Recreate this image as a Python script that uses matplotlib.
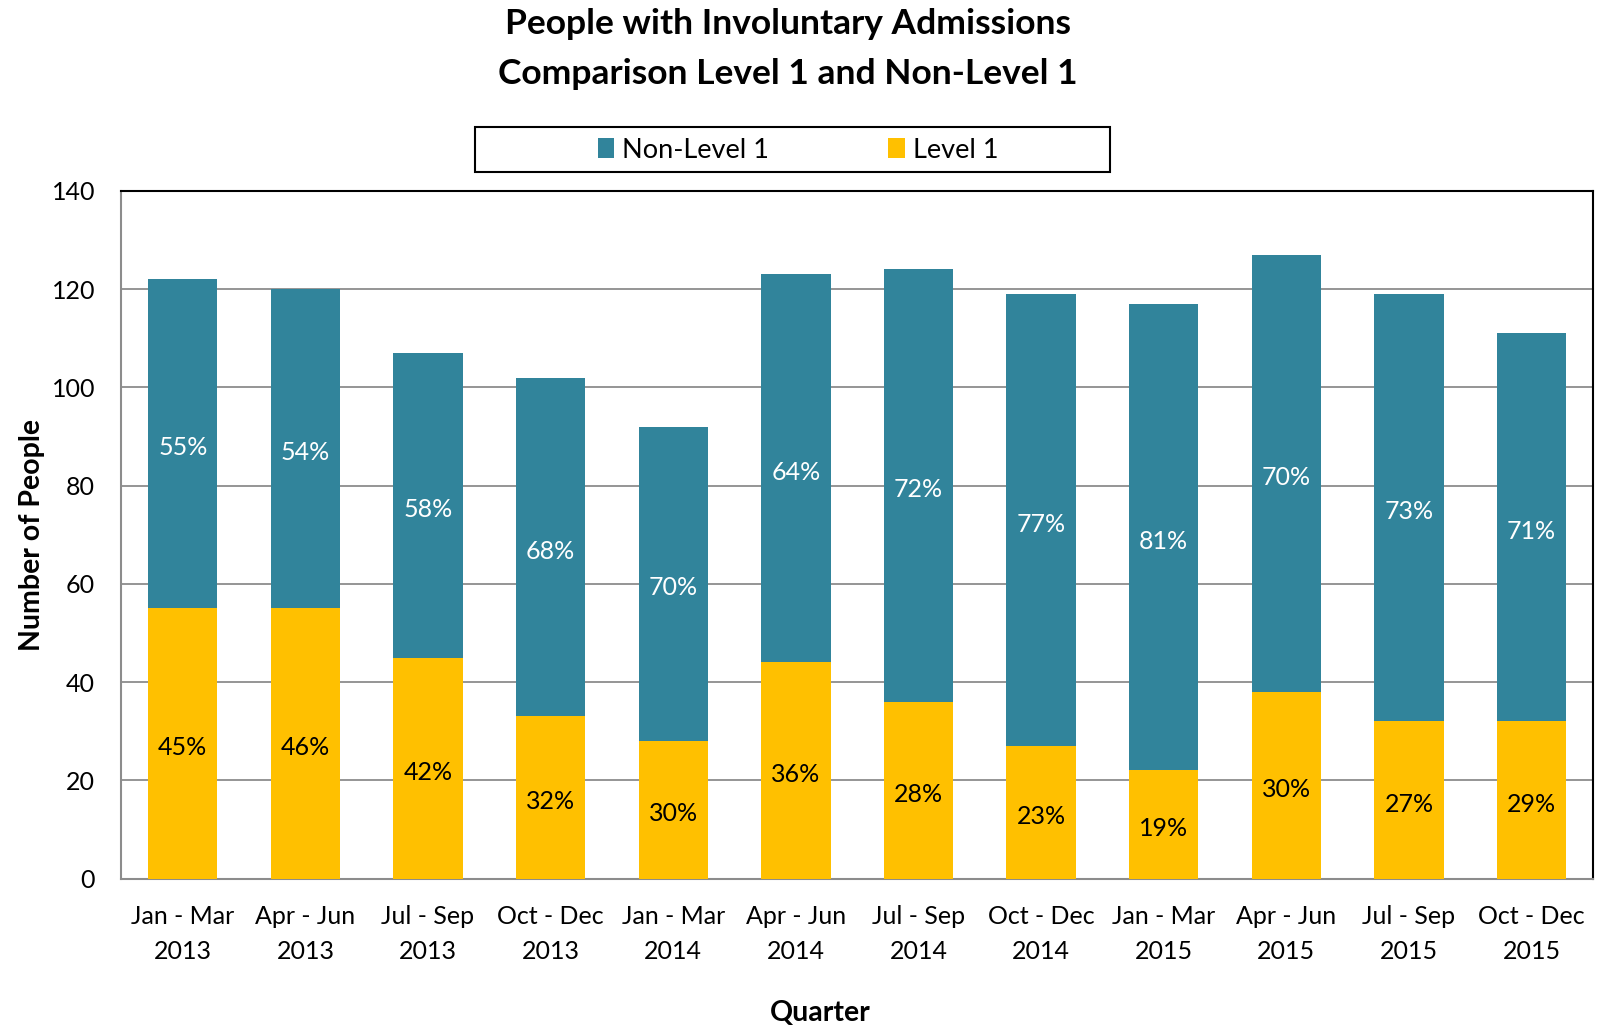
import matplotlib
matplotlib.use("Agg")
import matplotlib.pyplot as plt
import matplotlib.patches as mpatches
import numpy as np

quarters = ["Jan - Mar\n2013", "Apr - Jun\n2013", "Jul - Sep\n2013", "Oct - Dec\n2013",
            "Jan - Mar\n2014", "Apr - Jun\n2014", "Jul - Sep\n2014", "Oct - Dec\n2014",
            "Jan - Mar\n2015", "Apr - Jun\n2015", "Jul - Sep\n2015", "Oct - Dec\n2015"]
level1 = [55, 55, 45, 33, 28, 44, 36, 27, 22, 38, 32, 32]
non_level1 = [67, 65, 62, 69, 64, 79, 88, 92, 95, 89, 87, 79]
level1_pct = ["45%", "46%", "42%", "32%", "30%", "36%", "28%", "23%", "19%", "30%", "27%", "29%"]
non_level1_pct = ["55%", "54%", "58%", "68%", "70%", "64%", "72%", "77%", "81%", "70%", "73%", "71%"]

teal = "#31849B"
yellow = "#FFC000"

plt.rcParams["font.family"] = ["Lato", "DejaVu Sans"]

fig = plt.figure(figsize=(16, 10.26), dpi=100)
ax = fig.add_axes([0.0759, 0.1437, 0.9197, 0.6703])

x = np.arange(len(quarters))
width = 0.565
b_l1 = ax.bar(x, level1, width, color=yellow, label="Level 1", zorder=3)
b_nl = ax.bar(x, non_level1, width, bottom=level1, color=teal, label="Non-Level 1", zorder=3)

# percentage labels in the middle of each segment
for i in range(len(x)):
    ax.annotate(level1_pct[i], (x[i], level1[i] / 2), xytext=(0, -3),
                textcoords="offset points", ha="center", va="center",
                fontsize=18, color="black", zorder=4)
    ax.annotate(non_level1_pct[i], (x[i], level1[i] + non_level1[i] / 2), xytext=(0, -3),
                textcoords="offset points", ha="center", va="center",
                fontsize=18, color="white", zorder=4)

ax.set_xlim(-0.5, len(x) - 0.5)
ax.set_ylim(0, 140)
ax.set_yticks(range(0, 141, 20))
ax.set_xticks(x)
ax.set_xticklabels(quarters, fontsize=18, linespacing=1.62)
ax.tick_params(axis="x", length=0, pad=19)
ax.tick_params(axis="y", length=0, pad=19, labelsize=18)
ax.yaxis.grid(True, color="#8C8C8C", linewidth=1.3, zorder=0)

for side in ["left", "bottom"]:
    ax.spines[side].set_color("#8C8C8C")
    ax.spines[side].set_linewidth(1.5)
for side in ["top", "right"]:
    ax.spines[side].set_color("black")
    ax.spines[side].set_linewidth(1.5)

ax.set_ylabel("Number of People", fontsize=20.5, fontweight="bold", labelpad=5)
ax.set_xlabel("Quarter", fontsize=20.5, fontweight="bold")
ax.xaxis.set_label_coords(0.4747, -0.177)

fig.text(0.4925, 0.977, "People with Involuntary Admissions", ha="center", va="center",
         fontsize=25.5, fontweight="bold")
fig.text(0.4925, 0.928, "Comparison Level 1 and Non-Level 1", ha="center", va="center",
         fontsize=25.5, fontweight="bold")

# legend frame drawn separately so its padding can match the reference
frame = mpatches.Rectangle((0.2966, 0.8319), 0.3972, 0.0448, transform=fig.transFigure,
                           facecolor="white", edgecolor="black", linewidth=1.5)
fig.patches.append(frame)
fig.legend(handles=[b_nl, b_l1], loc="center", bbox_to_anchor=(0.4988, 0.8535),
           ncol=2, fontsize=19.5, frameon=False,
           handlelength=0.6, handleheight=0.75, handletextpad=0.3,
           columnspacing=4.4)

fig.savefig("out.png", dpi=100)
